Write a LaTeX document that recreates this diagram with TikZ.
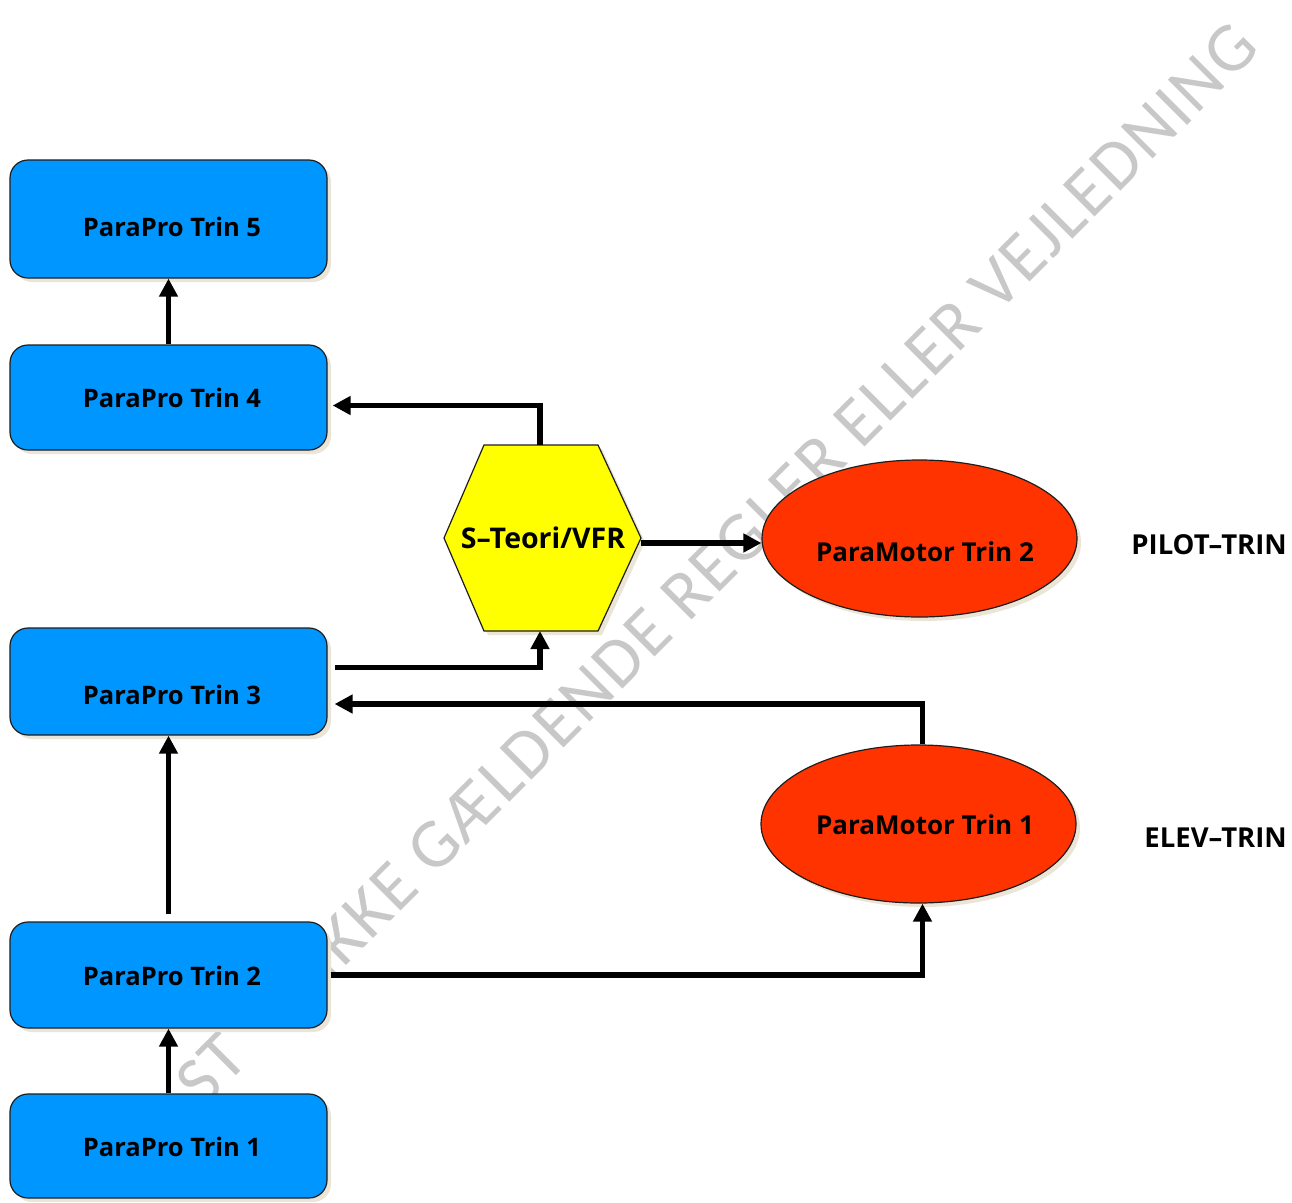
\documentclass[tikz,border=0pt]{standalone}
\usepackage{fontspec}
\setmainfont{Open Sans}
\newfontfamily\wmfont[LetterSpace=3]{Carlito}
\usetikzlibrary{shapes.geometric,shadows,arrows.meta,calc}
\definecolor{boxblue}{RGB}{0,150,255}
\definecolor{ellred}{RGB}{255,51,0}
\definecolor{hexyel}{RGB}{255,255,0}
\definecolor{wmgray}{RGB}{200,200,200}
\definecolor{shadowc}{RGB}{234,229,214}
\definecolor{edge}{RGB}{30,30,30}
\begin{document}
\begin{tikzpicture}[x=1pt,y=-1pt,
  shad/.style={drop shadow={shadow xshift=4pt,shadow yshift=-4pt,fill=shadowc,opacity=1}},
  box/.style={draw=edge, line width=1.2pt, fill=boxblue, rounded corners=18pt,
    minimum width=317pt, inner sep=0pt, shad},
  ell/.style={ellipse, draw=edge, line width=1.2pt, fill=ellred,
    minimum width=315pt, minimum height=157pt, inner sep=0pt, shad},
  hexsty/.style={draw=edge, line width=1.2pt, fill=hexyel, shad},
  lbl/.style={font=\fontsize{25.5}{30}\selectfont\bfseries, inner sep=0pt},
  mlbl/.style={font=\fontsize{26}{30}\selectfont\bfseries, inner sep=0pt},
  hexlbl/.style={font=\fontsize{28.5}{32}\selectfont\bfseries, inner sep=0pt},
  side/.style={font=\fontsize{27.5}{30}\selectfont\bfseries, anchor=east, inner sep=0pt},
  wm/.style={font=\wmfont\fontsize{70}{72}\selectfont, text=wmgray, inner sep=0pt},
  conn/.style={line width=5.5pt, -{Triangle[length=18pt,width=18pt]}}
]
\useasboundingbox (0,0) rectangle (1292,1202);
\fill[white] (0,0) rectangle (1292,1202);
% watermark
\begin{scope}
\clip (0,0) rectangle (1292,1202);
\node[wm, rotate=45, anchor=base east] (wm) at (1262,50) {ST\kern40pt{} – IKKE GÆLDENDE REGLER ELLER VEJLEDNING};
\end{scope}
% boxes
\node[box, minimum height=118pt] (b5) at (168.5,219) {};
\node[box, minimum height=105pt] (b4) at (168.5,397.5) {};
\node[box, minimum height=107pt] (b3) at (168.5,681.5) {};
\node[box, minimum height=106pt] (b2) at (168.5,975) {};
\node[box, minimum height=104pt] (b1) at (168.5,1146) {};
\node[lbl] (t5) at (172,227) {ParaPro Trin 5};
\node[lbl] (t4) at (172,398) {ParaPro Trin 4};
\node[lbl] (t3) at (172,695) {ParaPro Trin 3};
\node[lbl] (t2) at (172,976) {ParaPro Trin 2};
\node[lbl] (t1) at (172,1147) {ParaPro Trin 1};
% hexagon
\path[hexsty] (444,538) -- (484,445) -- (598,445) -- (641,538) -- (598,631) -- (484,631) -- cycle;
\coordinate (hxT) at (540,445);
\coordinate (hxB) at (540,631);
\coordinate (hxR) at (641,543);
\node[hexlbl] (hx) at (543,538) {S–Teori/VFR};
% ellipses
\node[ell] (pm2) at (919.5,538.5) {};
\node[ell, minimum height=158pt] (pm1) at (918.5,824) {};
\node[mlbl] (pt2) at (925,552) {ParaMotor Trin 2};
\node[mlbl] (pt1) at (925,825) {ParaMotor Trin 1};
% side labels
\node[side] (pilot) at (1287,545) {PILOT–TRIN};
\node[side] (elev) at (1287,838) {ELEV–TRIN};
% connectors
\draw[conn] (b4.north) -- (b5.south);
\draw[conn] (hxT) |- ($(b4.east)+(5,8)$);
\draw[conn] (hxR) -- (hxR -| pm2.west);
\draw[conn] ($(b3.east)+(7,-14)$) -| (hxB);
\draw[conn] ($(pm1.north)+(4,0)$) |- ($(b3.east)+(7,22.5)$);
\draw[conn] ($(b2.east)+(3,0)$) -| ($(pm1.south)+(4,0)$);
\draw[conn] ($(b2.north)+(0,-7)$) -- (b3.south);
\draw[conn] (b1.north) -- (b2.south);
\end{tikzpicture}
\end{document}
